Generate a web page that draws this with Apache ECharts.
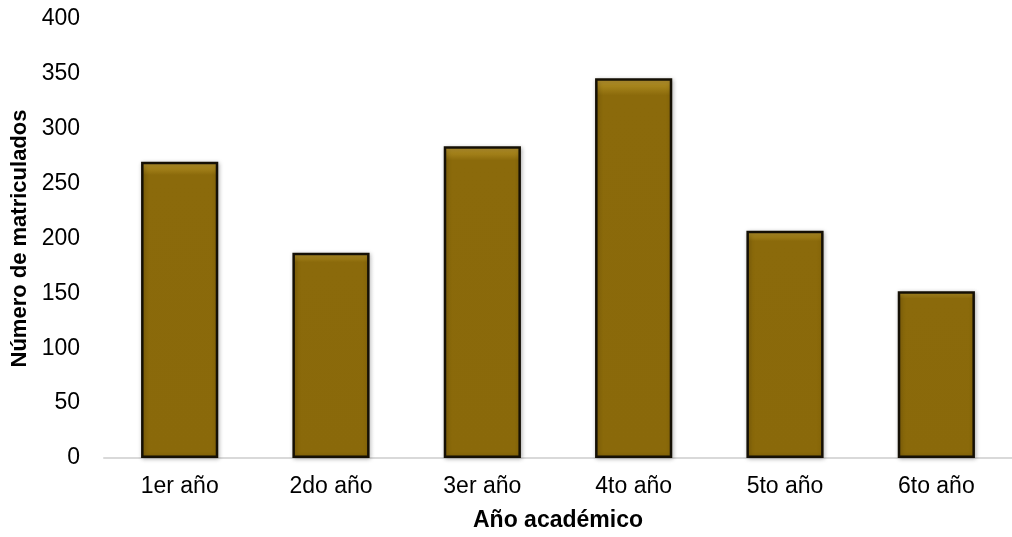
<!DOCTYPE html>
<html>
<head>
<meta charset="utf-8">
<script src="https://cdn.jsdelivr.net/npm/echarts@6/dist/echarts.min.js"></script>
<style>html,body{margin:0;padding:0;background:#fff;}#c{width:1012px;height:537px;}</style>
</head>
<body>
<div id="c"></div>
<script>
const categories = ["1er año", "2do año", "3er año", "4to año", "5to año", "6to año"];
const values = [270, 187, 284, 346, 207, 152];
const yTicks = [0, 50, 100, 150, 200, 250, 300, 350, 400];

const chart = echarts.init(document.getElementById('c'));
chart.setOption({
  animation: false,
  backgroundColor: '#fff',
  grid: { left: 104, right: -8, top: 19, bottom: 78 },
  xAxis: {
    type: 'category',
    data: categories,
    name: 'Año académico',
    nameLocation: 'middle',
    nameGap: 51,
    nameTextStyle: { fontFamily: 'Liberation Sans', fontSize: 23, fontWeight: 'bold', color: '#000' },
    axisLine: { lineStyle: { color: '#d9d9d9', width: 2 } },
    axisTick: { show: false },
    axisLabel: { fontFamily: 'Liberation Sans', fontSize: 23, color: '#000', margin: 17 }
  },
  yAxis: {
    type: 'value',
    min: 0, max: 400, interval: 50,
    name: 'Número de matriculados',
    nameLocation: 'middle',
    nameGap: 68,
    nameTextStyle: { fontFamily: 'Liberation Sans', fontSize: 22, fontWeight: 'bold', color: '#000' },
    axisLine: { show: false },
    axisTick: { show: false },
    splitLine: { show: false },
    axisLabel: {
      fontFamily: 'Liberation Sans', fontSize: 23, color: '#000', margin: 24,
      formatter: v => yTicks.includes(v) ? String(v) : ''
    }
  },
  series: [{
    type: 'bar',
    data: values,
    barWidth: '51%',
    itemStyle: {
      color: {
        type: 'linear', x: 0, y: 0, x2: 0, y2: 1,
        colorStops: [
          { offset: 0, color: '#c09c38' },
          { offset: 0.02, color: '#a6841c' },
          { offset: 0.045, color: '#8b6a0b' },
          { offset: 1, color: '#8a690a' }
        ]
      },
      borderColor: '#151005',
      borderWidth: 2.5,
      shadowColor: 'rgba(0,0,0,0.25)',
      shadowBlur: 4,
      shadowOffsetX: 1,
      shadowOffsetY: 1
    }
  }]
});
</script>
</body>
</html>
